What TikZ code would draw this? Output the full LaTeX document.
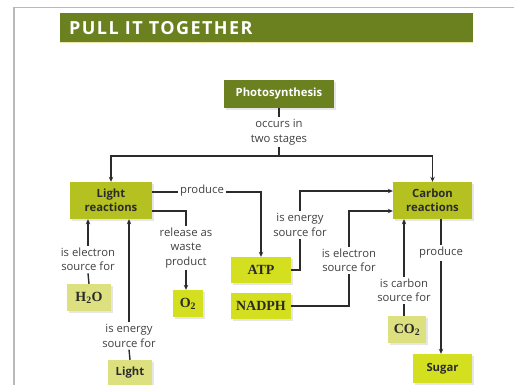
\documentclass[tikz,border=0pt]{standalone}
\usepackage{fontspec}
\setsansfont{Open Sans}
\newfontfamily\formulafont{Liberation Serif}
\usetikzlibrary{arrows.meta,shadows}
\definecolor{barolive}{HTML}{6B801E}
\definecolor{stagegreen}{HTML}{B4C120}
\definecolor{productlime}{HTML}{D4E01F}
\definecolor{sourcepale}{HTML}{DCE07E}
\definecolor{inktext}{HTML}{2B2B2B}
\tikzset{
  box/.style={minimum height=27pt, inner sep=2pt, text=inktext,
    drop shadow={opacity=0.2, shadow xshift=1.5pt, shadow yshift=-1.5pt}},
  stagebox/.style={box, fill=stagegreen, align=center,
    font=\sffamily\bfseries\fontsize{11.3}{14.5}\selectfont},
  productbox/.style={box, fill=productlime},
  sourcebox/.style={box, fill=sourcepale},
  chem/.style={font=\formulafont\bfseries\fontsize{14}{16}\selectfont},
  word/.style={font=\sffamily\bfseries\fontsize{11.3}{13}\selectfont},
  lbl/.style={align=center, inner sep=2pt, text=inktext!90,
    font=\sffamily\fontsize{11.3}{14.5}\selectfont},
  link/.style={draw=inktext, line width=1.4pt},
  arr/.style={link, -{Stealth[length=5pt,width=4.5pt]}}
}
\begin{document}
\begin{tikzpicture}[x=1pt,y=-1pt]
  \useasboundingbox (0,0) rectangle (514,384);
  % page frame and banner
  \draw[gray!55, line width=1.5pt] (14,420) -- (14,7.5) -- (530,7.5);
  \fill[barolive] (60,13) rectangle (473,42);
  \draw[sourcepale!70, line width=0.8pt] (60,42) -- (473,42);
  \node[anchor=west, text=white, inner sep=0pt,
    font=\sffamily\bfseries\fontsize{18}{20}\selectfont\addfontfeature{LetterSpace=8}]
    (banner) at (69,28) {PULL IT TOGETHER};

  % boxes
  \node[box, fill=barolive, text=white, minimum width=110pt, minimum height=28pt,
    font=\sffamily\bfseries\fontsize{11.3}{13}\selectfont] (photo) at (279,94) {Photosynthesis};
  \node[stagebox, minimum width=82pt, minimum height=37pt] (lr) at (111,200.5) {Light\\reactions};
  \node[stagebox, minimum width=79pt, minimum height=37pt] (cr) at (432.5,200.5) {Carbon\\reactions};
  \node[productbox, chem, minimum width=60pt, minimum height=26pt] (atp) at (261,270) {ATP};
  \node[productbox, chem, minimum width=60pt, minimum height=26pt] (nadph) at (261,306) {NADPH};
  \node[productbox, chem, minimum width=30pt] (o2) at (188,303.5) {O\textsubscript{2}};
  \node[sourcebox, chem, minimum width=44pt] (h2o) at (89,297.5) {H\textsubscript{2}O};
  \node[sourcebox, chem, minimum width=38pt] (co2) at (407,329.5) {CO\textsubscript{2}};
  \node[sourcebox, word, minimum width=44pt, minimum height=26pt] (light) at (130,373) {Light};
  \node[productbox, word, minimum width=59pt, minimum height=29pt] (sugar) at (442.5,368.5) {Sugar};

  % labels
  \node[lbl] (occurs) at (279,132) {occurs in\\two stages};
  \node[lbl] (prodA) at (202,191) {produce};
  \node[lbl] (release) at (186,248) {release as\\waste\\product};
  \node[lbl] (elecA) at (88,259.5) {is electron\\source for};
  \node[lbl] (energyA) at (129,336) {is energy\\source for};
  \node[lbl] (energyB) at (300,225) {is energy\\source for};
  \node[lbl] (elecB) at (349,260.5) {is electron\\source for};
  \node[lbl] (carbonsrc) at (404,290.5) {is carbon\\source for};
  \node[lbl] (prodB) at (441,253) {produce};
  \coordinate (split) at (279,156);

  % connectors
  \draw[link] (photo) -- (occurs);
  \draw[link] (occurs) -- (split);
  \draw[arr] (split) -| (lr.north);
  \draw[arr] (split) -| (cr.north);

  \draw[link] ([yshift=8.5pt]lr.east) -- (prodA.west |- 0,192);
  \draw[arr] (prodA.east |- 0,192) -| (atp.north);
  \draw[link] ([yshift=-10.5pt]lr.east) -| (release.north);
  \draw[arr] (release.south) -- (release.south |- o2.north);
  \draw[link] (h2o.north) -- (elecA.south);
  \draw[arr] (elecA.north) -- (elecA.north |- lr.south);
  \draw[link] (light.north) -- (energyA.south);
  \draw[arr] (energyA.north) -- (energyA.north |- lr.south);

  \draw[link] (atp.east) -| (energyB.south);
  \draw[arr] (energyB.north) |- ([yshift=9.5pt]cr.west);
  \draw[link] (nadph.east) -| (elecB.south);
  \draw[arr] (elecB.north) |- ([yshift=-10.5pt]cr.west);
  \draw[link] (carbonsrc.south |- co2.north) -- (carbonsrc.south);
  \draw[arr] (carbonsrc.north) -- (carbonsrc.north |- cr.south);
  \draw[link] (prodB.north |- cr.south) -- (prodB.north);
  \draw[arr] (prodB.south) -- (prodB.south |- sugar.north);
\end{tikzpicture}
\end{document}
